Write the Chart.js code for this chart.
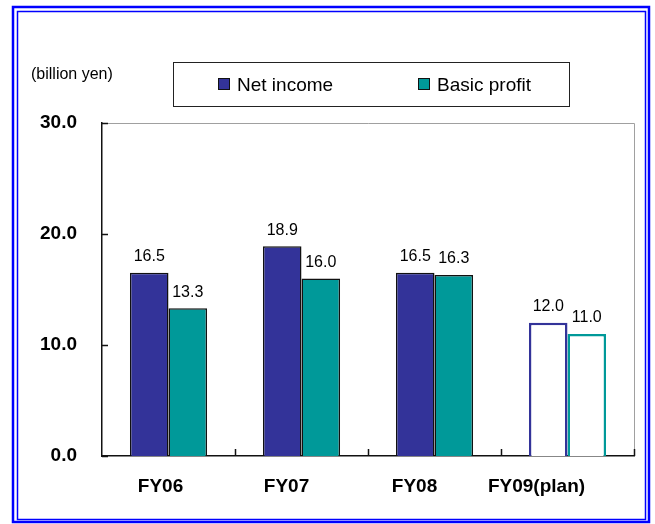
<!DOCTYPE html>
<html>
<head>
<meta charset="utf-8">
<script src="https://cdn.jsdelivr.net/npm/chart.js@4/dist/chart.umd.min.js"></script>
<style>
  html, body { margin: 0; padding: 0; background: #fff; }
  canvas { display: block; }
</style>
</head>
<body>
<canvas id="profitChart" width="655" height="524"></canvas>
<script>
const years = ['FY06', 'FY07', 'FY08', 'FY09(plan)']
const netIncome = [16.5, 18.9, 16.5, 12.0]
const basicProfit = [13.3, 16.0, 16.3, 11.0]
const yTicks = [0, 10, 20, 30]
const unitLabel = '(billion yen)'

const NAVY = '#333399'
const TEAL = '#009999'
const FONT = '"Liberation Sans", Arial, sans-serif'
// year labels sit a little left of their category centres
const yearLabelShift = [-8, -15, -20, -31]

// last year is a plan figure, drawn as an outline only
function fills (color) {
  return years.map((y, i) => i === years.length - 1 ? '#ffffff' : color)
}
function strokes (color) {
  return years.map((y, i) => i === years.length - 1 ? color : '#111111')
}
function widths () {
  return years.map((y, i) => i === years.length - 1 ? 2.5 : 1.5)
}

const framePlugin = {
  id: 'frame',
  beforeDraw (chart) {
    const ctx = chart.ctx
    ctx.save()
    ctx.fillStyle = '#ffffff'
    ctx.fillRect(0, 0, chart.width, chart.height)
    // double blue frame
    ctx.strokeStyle = '#0000ff'
    ctx.lineWidth = 2.5
    ctx.strokeRect(13, 7, 636, 515)
    ctx.lineWidth = 1.5
    ctx.strokeRect(17.5, 11.5, 628, 508)
    ctx.restore()
  },
  beforeDatasetsDraw (chart) {
    const { ctx, chartArea: a, scales } = chart
    ctx.save()
    // gray top and right edge of the plot
    ctx.strokeStyle = '#a0a0a0'
    ctx.lineWidth = 1
    ctx.beginPath()
    ctx.moveTo(a.left, a.top + 0.5)
    ctx.lineTo(a.right + 0.5, a.top + 0.5)
    ctx.lineTo(a.right + 0.5, a.bottom)
    ctx.stroke()
    // inward tick marks
    ctx.strokeStyle = '#111111'
    ctx.lineWidth = 1.5
    ctx.beginPath()
    for (const v of yTicks) {
      const y = Math.round(scales.y.getPixelForValue(v)) + 0.5
      ctx.moveTo(a.left, y)
      ctx.lineTo(a.left + 6, y)
    }
    const step = (a.right - a.left) / years.length
    for (let i = 1; i <= years.length; i++) {
      const x = Math.round(scales.x.getPixelForValue(i - 1) + step / 2) + 0.5
      ctx.moveTo(x, a.bottom)
      ctx.lineTo(x, a.bottom - 7)
    }
    ctx.stroke()
    ctx.restore()
  },
  afterDatasetsDraw (chart) {
    const ctx = chart.ctx
    ctx.save()
    ctx.fillStyle = '#000000'
    ctx.font = '16px ' + FONT
    ctx.textAlign = 'center'
    ctx.textBaseline = 'bottom'
    chart.data.datasets.forEach((ds, di) => {
      chart.getDatasetMeta(di).data.forEach((bar, i) => {
        ctx.fillText(ds.data[i].toFixed(1), bar.x, bar.y - 8)
      })
    })
    ctx.restore()
  },
  afterDraw (chart) {
    const { ctx, chartArea: a, scales } = chart
    ctx.save()
    // year labels under the axis
    ctx.fillStyle = '#000000'
    ctx.font = 'bold 19px ' + FONT
    ctx.textAlign = 'center'
    ctx.textBaseline = 'middle'
    years.forEach((label, i) => {
      ctx.fillText(label, scales.x.getPixelForValue(i) + yearLabelShift[i], a.bottom + 31)
    })
    // unit label
    ctx.font = '16px ' + FONT
    ctx.textAlign = 'left'
    ctx.fillText(unitLabel, 31, 75)
    // legend box
    ctx.strokeStyle = '#222222'
    ctx.lineWidth = 1
    ctx.strokeRect(173.5, 62.5, 396, 44)
    const items = [[218, chart.data.datasets[0]], [418, chart.data.datasets[1]]]
    ctx.font = '19px ' + FONT
    for (const [x, ds] of items) {
      ctx.fillStyle = ds.legendColor
      ctx.fillRect(x, 78, 12, 12)
      ctx.strokeStyle = '#111111'
      ctx.strokeRect(x + 0.5, 78.5, 11, 11)
      ctx.fillStyle = '#000000'
      ctx.fillText(ds.label, x + 19, 86)
    }
    ctx.restore()
  }
}

new Chart(document.getElementById('profitChart').getContext('2d'), {
  type: 'bar',
  data: {
    labels: years,
    datasets: [
      {
        label: 'Net income',
        data: netIncome,
        legendColor: NAVY,
        backgroundColor: fills(NAVY),
        borderColor: strokes(NAVY),
        borderWidth: widths()
      },
      {
        label: 'Basic profit',
        data: basicProfit,
        legendColor: TEAL,
        backgroundColor: fills(TEAL),
        borderColor: strokes(TEAL),
        borderWidth: widths()
      }
    ]
  },
  options: {
    responsive: false,
    animation: false,
    devicePixelRatio: 1,
    layout: { padding: { left: 0, top: 123, right: 21, bottom: 0 } },
    categoryPercentage: 0.58,
    barPercentage: 1.0,
    plugins: {
      legend: { display: false },
      tooltip: { enabled: false }
    },
    scales: {
      x: {
        grid: { display: false, drawTicks: false },
        border: { color: '#111111', width: 1.5 },
        ticks: { display: false },
        afterFit (scale) { scale.height = 68 }
      },
      y: {
        min: 0,
        max: 30,
        afterBuildTicks (scale) { scale.ticks = yTicks.map(v => ({ value: v })) },
        grid: { display: false, drawTicks: false },
        border: { color: '#111111', width: 1.5 },
        ticks: {
          color: '#000000',
          padding: 25,
          font: { family: FONT, size: 19, weight: 'bold' },
          callback: v => v.toFixed(1)
        },
        afterFit (scale) { scale.width = 102 }
      }
    }
  },
  plugins: [framePlugin]
})
</script>
</body>
</html>
